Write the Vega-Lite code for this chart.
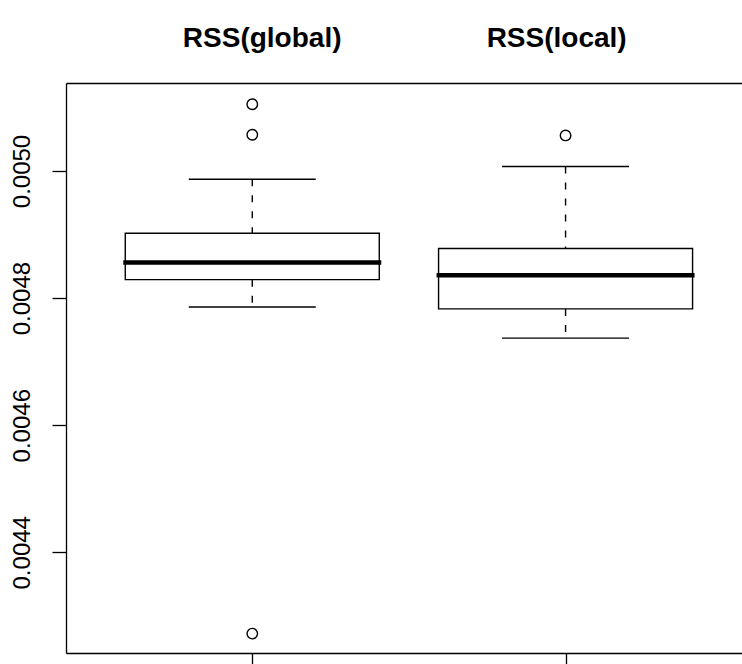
{
  "$schema": "https://vega.github.io/schema/vega-lite/v6.json",
  "width": 676,
  "height": 570,
  "autosize": {"type": "none"},
  "padding": {"left": 66, "top": 83, "right": 0, "bottom": 11},
  "background": "white",
  "config": {"view": {"stroke": null}, "font": "Liberation Sans"},
  "datasets": {
    "stats": [
      {"group": "RSS(global)", "pos": 1, "lower": 0.004786, "q1": 0.004829, "median": 0.004856, "q3": 0.004902, "upper": 0.004987},
      {"group": "RSS(local)", "pos": 2, "lower": 0.004737, "q1": 0.004783, "median": 0.004836, "q3": 0.004878, "upper": 0.005007}
    ],
    "outliers": [
      {"group": "RSS(global)", "pos": 1, "value": 0.005105},
      {"group": "RSS(global)", "pos": 1, "value": 0.005057},
      {"group": "RSS(global)", "pos": 1, "value": 0.004272},
      {"group": "RSS(local)", "pos": 2, "value": 0.005056}
    ]
  },
  "resolve": {"axis": {"x": "independent"}},
  "layer": [
    {
      "data": {"name": "stats"},
      "mark": {"type": "rule", "color": "black", "strokeWidth": 1.4, "strokeDash": [7, 9]},
      "encoding": {
        "x": {"field": "pos", "type": "quantitative", "scale": {"domain": [0.4214, 2.5472], "nice": false, "zero": false},
              "axis": {"orient": "bottom", "values": [1, 2], "labels": false, "ticks": true, "tickSize": 11, "tickColor": "black", "tickWidth": 1.3, "domain": true, "domainColor": "black", "domainWidth": 1.3, "grid": false, "title": null}},
        "y": {"field": "upper", "type": "quantitative", "scale": {"domain": [0.0042415, 0.0051385], "nice": false, "zero": false},
              "axis": {"orient": "left", "values": [0.0044, 0.0046, 0.0048, 0.005], "format": ".4f", "labelAngle": 270, "labelFontSize": 24, "labelColor": "black", "labelPadding": 18, "tickSize": 14, "tickColor": "black", "tickWidth": 1.3, "domainColor": "black", "domainWidth": 1.3, "grid": false, "title": null, "labelOverlap": false, "labelFlush": false}},
        "y2": {"field": "q3"}
      }
    },
    {
      "data": {"name": "stats"},
      "mark": {"type": "rule", "color": "black", "strokeWidth": 1.4, "strokeDash": [7, 9]},
      "encoding": {
        "x": {"field": "pos", "type": "quantitative", "axis": null},
        "y": {"field": "q1", "type": "quantitative"},
        "y2": {"field": "lower"}
      }
    },
    {
      "data": {"name": "stats"},
      "mark": {"type": "bar", "width": 254, "fill": "white", "stroke": "black", "strokeWidth": 1.4},
      "encoding": {
        "x": {"field": "pos", "type": "quantitative", "axis": null},
        "y": {"field": "q1", "type": "quantitative"},
        "y2": {"field": "q3"}
      }
    },
    {
      "data": {"name": "stats"},
      "mark": {"type": "tick", "orient": "horizontal", "size": 258, "thickness": 4.5, "color": "black", "opacity": 1},
      "encoding": {
        "x": {"field": "pos", "type": "quantitative", "axis": null},
        "y": {"field": "median", "type": "quantitative"}
      }
    },
    {
      "data": {"name": "stats"},
      "mark": {"type": "tick", "orient": "horizontal", "size": 127, "thickness": 1.4, "color": "black", "opacity": 1},
      "encoding": {
        "x": {"field": "pos", "type": "quantitative", "axis": null},
        "y": {"field": "upper", "type": "quantitative"}
      }
    },
    {
      "data": {"name": "stats"},
      "mark": {"type": "tick", "orient": "horizontal", "size": 127, "thickness": 1.4, "color": "black", "opacity": 1},
      "encoding": {
        "x": {"field": "pos", "type": "quantitative", "axis": null},
        "y": {"field": "lower", "type": "quantitative"}
      }
    },
    {
      "data": {"name": "outliers"},
      "mark": {"type": "point", "shape": "circle", "filled": false, "size": 110, "stroke": "black", "strokeWidth": 1.4, "opacity": 1},
      "encoding": {
        "x": {"field": "pos", "type": "quantitative",
              "axis": {"orient": "top", "values": [1.03, 1.97], "labelExpr": "datum.value < 1.5 ? 'RSS(global)' : 'RSS(local)'", "labelFontSize": 28, "labelFontWeight": "bold", "labelColor": "black", "labelBaseline": "alphabetic", "labelPadding": 37, "ticks": false, "tickSize": 0, "domain": true, "domainColor": "black", "domainWidth": 1.3, "grid": false, "title": null, "labelOverlap": false, "labelFlush": false, "labelBound": false}},
        "y": {"field": "value", "type": "quantitative"}
      }
    }
  ]
}
